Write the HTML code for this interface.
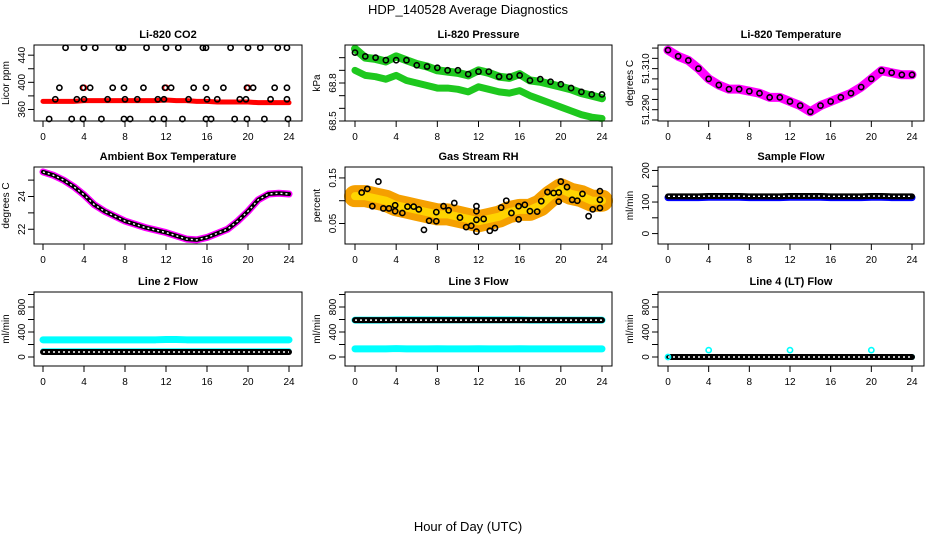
<!DOCTYPE html>
<html><head><meta charset="utf-8">
<style>
html,body{margin:0;padding:0;background:#fff;}
svg{display:block;font-family:"Liberation Sans",sans-serif;}
</style></head>
<body>
<svg id="fig" width="936" height="540" viewBox="0 0 936 540" xmlns="http://www.w3.org/2000/svg">
<text x="468" y="14" text-anchor="middle" font-size="13">HDP_140528  Average Diagnostics</text>
<text x="468" y="531" text-anchor="middle" font-size="13">Hour of Day (UTC)</text>
</svg>
<script>
// ---------- data ----------
const hours = [0,1,2,3,4,5,6,7,8,9,10,11,12,13,14,15,16,17,18,19,20,21,22,23,24];
const xTicks = [0,4,8,12,16,20,24];
// CO2
const co2Red = [372,372,372,372,373,373,373,373,373,373,373,373,374,373,373,372,372,371,371,371,371,370,370,370,370];
const co2TopT = [2.2,4,5.1,7.4,7.8,10.1,12,13.2,15.6,15.9,18.3,20,21.2,22.9,23.8];
const co2MidT = [1.6,3.9,4.6,6.8,7.9,9.8,11.9,12.5,14.7,15.9,17.6,19.9,20.5,22.6,23.8];
const co2LowT = [1.2,3.3,4,6.3,8,9.2,11.2,11.8,14.2,16,17,19.2,19.8,22.2,23.8];
const co2BotT = [0.6,2.8,3.9,5.7,7.9,8.5,10.7,11.8,13.6,15.9,16.4,18.7,19.9,21.6,23.9];
const co2Levels = [451,392,375,346];
const co2RedSpikeT = [4,12,20];
// Pressure
const presUpper = [69.07,69.0,68.99,68.97,69.01,68.98,68.95,68.93,68.9,68.89,68.88,68.86,68.9,68.88,68.85,68.84,68.87,68.82,68.81,68.79,68.77,68.75,68.72,68.7,68.68];
const presBlack = [69.04,69.01,69.0,68.98,68.98,68.98,68.94,68.93,68.92,68.9,68.9,68.87,68.89,68.89,68.85,68.85,68.86,68.82,68.83,68.81,68.79,68.76,68.73,68.71,68.71];
const presLower = [68.9,68.86,68.85,68.83,68.86,68.82,68.8,68.78,68.76,68.76,68.75,68.73,68.77,68.75,68.73,68.72,68.74,68.7,68.67,68.64,68.61,68.58,68.55,68.53,68.52];
// Li-820 temperature
const tempLi = [51.319,51.316,51.314,51.310,51.305,51.302,51.300,51.300,51.299,51.298,51.296,51.296,51.294,51.292,51.289,51.292,51.294,51.296,51.298,51.301,51.305,51.309,51.308,51.307,51.307];
// Ambient
const ambient = [25.5,25.3,25.0,24.6,24.1,23.5,23.1,22.8,22.5,22.3,22.1,21.95,21.8,21.6,21.4,21.35,21.5,21.75,22.0,22.5,23.1,23.8,24.15,24.2,24.15];
// RH
const rhCloud = [0.11,0.11,0.105,0.1,0.09,0.085,0.08,0.075,0.07,0.07,0.065,0.06,0.055,0.06,0.065,0.075,0.08,0.08,0.09,0.11,0.125,0.115,0.11,0.1,0.1];
const rhBlackT = [0.65,1.2,1.68,2.27,2.75,3.3,3.9,3.9,4.6,5.1,5.7,6.2,6.7,7.2,7.9,7.9,8.6,9.1,9.65,10.2,10.8,11.3,11.8,11.8,11.8,11.8,12.5,13.1,13.6,14.2,14.7,15.2,15.9,15.9,16.5,17,17.7,18.1,18.7,19.3,19.8,19.8,20,20.6,21.1,21.6,22.1,22.7,23.1,23.8,23.8,23.8];
const rhBlackV = [0.118,0.126,0.088,0.142,0.083,0.083,0.09,0.077,0.073,0.087,0.087,0.081,0.036,0.056,0.075,0.055,0.088,0.079,0.095,0.063,0.042,0.045,0.088,0.077,0.058,0.032,0.06,0.034,0.04,0.085,0.1,0.073,0.088,0.059,0.091,0.077,0.076,0.099,0.119,0.117,0.118,0.098,0.142,0.13,0.102,0.1,0.115,0.066,0.081,0.084,0.102,0.121];
// Sample flow
const sampleBlue = [114,114,114,114,115,115,115,115,114,114,114,114,115,115,115,115,114,114,114,114,115,115,114,114,114];
const sampleBlack = [118,118,118,118,119,119,119,119,118,118,118,118,119,119,119,119,118,118,118,118,119,119,118,118,118];
// Line flows
const line2Cyan = [275,275,275,275,275,275,275,275,275,275,275,275,280,280,275,275,275,275,275,275,275,275,275,275,275];
const line2Black = [80,80,80,80,80,80,80,80,80,80,80,80,80,80,80,80,80,80,80,80,80,80,80,80,80];
const line3Cyan = [590,590,590,590,595,595,595,595,595,595,595,595,595,595,595,595,595,590,590,590,590,590,590,590,590];
const line3Black = [590,590,590,590,590,590,590,590,590,590,590,590,590,590,590,590,590,590,590,590,590,590,590,590,590];
const line3Low = [130,130,130,130,135,130,130,130,132,130,130,130,132,130,130,130,132,130,130,130,130,130,130,130,130];
const line4Black = [0,0,0,0,0,0,0,0,0,0,0,0,0,0,0,0,0,0,0,0,0,0,0,0,0];
const line4SpikeT = [0,4,12,20];
const line4SpikeV = [0,110,110,110];

// ---------- drawing ----------
const NS='http://www.w3.org/2000/svg';
const svg=document.getElementById('fig');
function mk(tag,attrs,parent){const e=document.createElementNS(NS,tag);for(const k in attrs)e.setAttribute(k,attrs[k]);(parent||svg).appendChild(e);return e;}
const cols=[{bl:34,br:302,x0:43,x24:289},{bl:345,br:612,x0:355,x24:602},{bl:658,br:924,x0:668,x24:912}];
const rows=[{bt:45,bb:121},{bt:167,bb:244},{bt:292,bb:366}];

function panel(ci,ri,title,ytitle,ymin,ymax,yticks,ylabels){
  const c=cols[ci],r=rows[ri];
  const g=mk('g',{});
  
  
  const sx=t=>c.x0+(t/24)*(c.x24-c.x0);
  const sy=v=>r.bb-(v-ymin)/(ymax-ymin)*(r.bb-r.bt);
  const t=mk('text',{x:(c.bl+c.br)/2,y:r.bt-7,'text-anchor':'middle','font-size':'11','font-weight':'bold'},g);t.textContent=title;
  
  
  const yt=mk('text',{transform:`translate(${c.bl-25},${(r.bt+r.bb)/2}) rotate(-90)`,'text-anchor':'middle','font-size':'10'},g);yt.textContent=ytitle;
  
  
  xTicks.forEach(v=>{
    mk('line',{x1:sx(v),x2:sx(v),y1:r.bb,y2:r.bb+6,stroke:'#000'},g);
    const l=mk('text',{x:sx(v),y:r.bb+19,'text-anchor':'middle','font-size':'10'},g);l.textContent=v;
    
    
  });
  yticks.forEach(v=>{mk('line',{x1:c.bl-6,x2:c.bl,y1:sy(v),y2:sy(v),stroke:'#000'},g);});
  ylabels.forEach(s=>{
    const v=parseFloat(s);
    const l=mk('text',{transform:`translate(${c.bl-9},${sy(v)}) rotate(-90)`,'text-anchor':'middle','font-size':'10'},g);l.textContent=s;
    
    
  });
  const plot=mk('g',{},g);
  const box=mk('rect',{x:c.bl,y:r.bt,width:c.br-c.bl,height:r.bb-r.bt,fill:'none',stroke:'#000'},g);
  
  
  return {sx,sy,plot};
}
function band(p,vals,color,w,name){
  const pts=hours.map((h,i)=>p.sx(h)+','+p.sy(vals[i])).join(' ');
  const e=mk('polyline',{points:pts,fill:'none',stroke:color,'stroke-width':w,'stroke-linejoin':'round','stroke-linecap':'round'},p.plot);
  
  
}
function circles(p,ts,vs,color,name,r){
  ts.forEach((t,i)=>{
    const e=mk('circle',{cx:p.sx(t),cy:p.sy(vs[i]),r:r||2.6,fill:'none',stroke:color,'stroke-width':1.6},p.plot);
    
    
  });
}
function ringBand(p,vals,name,w){
  band(p,vals,'#000',w||6,name);
  const pts=hours.map((h,i)=>p.sx(h)+','+p.sy(vals[i])).join(' ');
  const e=mk('polyline',{points:pts,fill:'none',stroke:'#fff','stroke-width':1.4,'stroke-dasharray':'2 3'},p.plot);
  
  
}

// 1 CO2
let p=panel(0,0,'Li-820 CO2','Licor ppm',343,455,[360,380,400,420,440],['360','400','440']);
band(p,co2Red,'#f00',5,'co2-red-series');
circles(p,co2RedSpikeT,co2RedSpikeT.map(()=>co2Levels[1]),'#f00','co2-red-point');
[co2TopT,co2MidT,co2LowT,co2BotT].forEach((ts,k)=>circles(p,ts,ts.map(()=>co2Levels[k]),'#000','co2-black-point'));
// 2 Pressure
p=panel(1,0,'Li-820 Pressure','kPa',68.5,69.1,[68.5,68.6,68.7,68.8,68.9,69.0],['68.5','68.8']);
band(p,presLower,'#1ec81e',7,'pressure-lower-green');
band(p,presUpper,'#1ec81e',8,'pressure-upper-green');
circles(p,hours,presBlack,'#000','pressure-black-point');
// 3 Temp
p=panel(2,0,'Li-820 Temperature','degrees C',51.2845,51.3215,[51.285,51.29,51.295,51.30,51.305,51.31,51.315,51.32],['51.290','51.310']);
band(p,tempLi,'#f0f',9,'li820-temp-magenta');
circles(p,hours,tempLi,'#000','li820-temp-black-point');
// 4 Ambient
p=panel(0,1,'Ambient Box Temperature','degrees C',21.1,25.8,[22,23,24,25],['22','24']);
band(p,ambient,'#f0f',7,'ambient-magenta');
ringBand(p,ambient,'ambient-black',4);
// 5 RH
p=panel(1,1,'Gas Stream RH','percent',0.005,0.174,[0.05,0.1,0.15],['0.05','0.15']);
band(p,rhCloud,'#f5a000',22,'rh-orange-cloud');
band(p,rhCloud,'#ffd400',8,'rh-yellow-core');
circles(p,rhBlackT,rhBlackV,'#000','rh-black-point');
// 6 Sample flow
p=panel(2,1,'Sample Flow','ml/min',-33,211,[0,50,100,150,200],['0','100','200']);
band(p,sampleBlue,'#0000ff',7,'sample-flow-blue');
ringBand(p,sampleBlack,'sample-flow-black');
// 7 Line 2
p=panel(0,2,'Line 2 Flow','ml/min',-144,1040,[0,200,400,600,800,1000],['0','400','800']);
band(p,line2Cyan,'#00ffff',7,'line2-cyan');
band(p,line2Black.map(v=>v+20),'#00ffff',5,'line2-cyan-low');
ringBand(p,line2Black,'line2-black');
// 8 Line 3
p=panel(1,2,'Line 3 Flow','ml/min',-144,1040,[0,200,400,600,800,1000],['0','400','800']);
band(p,line3Low,'#00ffff',7,'line3-cyan-low');
band(p,line3Cyan,'#00ffff',7,'line3-cyan');
ringBand(p,line3Black,'line3-black');
// 9 Line 4
p=panel(2,2,'Line 4 (LT) Flow','ml/min',-144,1040,[0,200,400,600,800,1000],['0','400','800']);
band(p,line4Black,'#00ffff',6,'line4-cyan');
ringBand(p,line4Black,'line4-black');
circles(p,line4SpikeT,line4SpikeV,'#00ffff','line4-cyan-spike');
</script>
</body></html>
